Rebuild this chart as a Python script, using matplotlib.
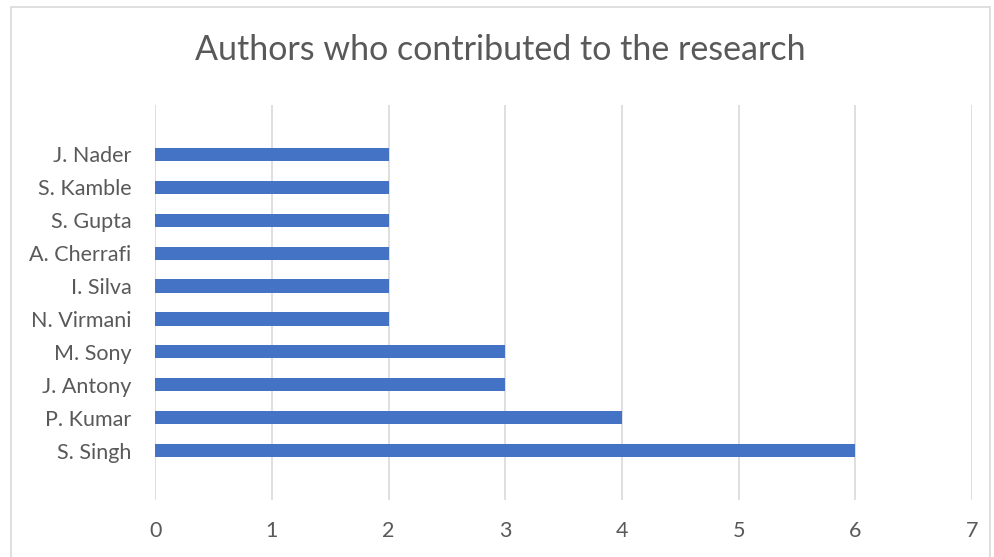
import matplotlib.pyplot as plt
import matplotlib.patches as patches
import numpy as np

# data (bottom to top)
authors = ['S. Singh', 'P. Kumar', 'J. Antony', 'M. Sony', 'N. Virmani',
           'I. Silva', 'A. Cherrafi', 'S. Gupta', 'S. Kamble', 'J. Nader']
papers = [6, 4, 3, 3, 2, 2, 2, 2, 2, 2]

plt.rcParams['font.family'] = ['Lato', 'DejaVu Sans']
text_color = '#595959'

fig = plt.figure(figsize=(9.94, 5.57), dpi=100)
ax = fig.add_axes([0.156, 0.1023, 0.822, 0.7092])

y = np.arange(len(authors))
ax.barh(y, papers, height=0.4, color='#4472C4', zorder=3)

ax.set_xlim(0, 7)
ax.set_ylim(-1.5, len(authors) + 0.5)
ax.set_xticks(range(0, 8))
ax.set_yticks(y)
ax.set_yticklabels(authors)
ax.tick_params(axis='both', length=0, labelsize=15.5, colors=text_color)
ax.tick_params(axis='y', pad=17)
ax.tick_params(axis='x', pad=15)
ax.grid(axis='x', color='#D9D9D9', linewidth=1.2, zorder=0)
for s in ax.spines.values():
    s.set_visible(False)

fig.text(0.503, 0.910, 'Authors who contributed to the research',
         ha='center', va='center', fontsize=24.5, color=text_color)

# outer chart border
fig.patches.append(patches.Rectangle((11 / 994, -0.01), 979 / 994, 1 - 7 / 557 + 0.01,
                                     transform=fig.transFigure, fill=False,
                                     edgecolor='#D9D9D9', linewidth=1.2))

plt.savefig('out.png', dpi=100)
